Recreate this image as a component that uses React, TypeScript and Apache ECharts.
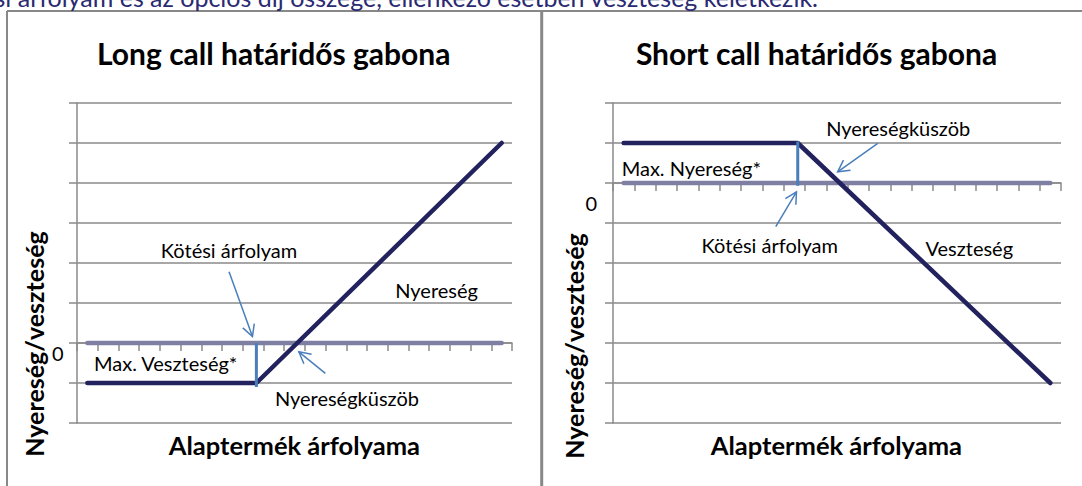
import React, { useEffect, useRef } from 'react';
import * as echarts from 'echarts';

const FONT = 'Lato, "Noto Sans", sans-serif';

// ---- data (price axis units, payoff units) ----
const zeroPrice = [0.5, 20.5];
const zeroPayoff = [0, 0];
const longPrice = [0.5, 8.66, 20.5];
const longPayoff = [-1, -1, 5];
const shortPrice = [0.5, 8.66, 20.5];
const shortPayoff = [1, 1, -5];
const strikePrice = 8.66;
const longStrikeSpan = [0, -1.1];
const shortStrikeSpan = [1.04, -0.07];
const yAxisLabels = ['0'];

const titles = ['Long call határidős gabona', 'Short call határidős gabona'];
const xAxisName = 'Alaptermék árfolyama';
const yAxisName = 'Nyereség/veszteség';
const headerText = 'kötési árfolyam és az opciós díj összege, ellenkező esetben veszteség keletkezik.';

type Note = { text: string; x: number; y: number };
type Arrow = { from: [number, number]; to: [number, number] };

const longNotes: Note[] = [
  { text: 'Kötési árfolyam', x: 7.34, y: 2.33 },
  { text: 'Nyereség', x: 17.36, y: 1.33 },
  { text: 'Max. Veszteség*', x: 4.28, y: -0.51 },
  { text: 'Nyereségküszöb', x: 13.03, y: -1.38 },
];
const shortNotes: Note[] = [
  { text: 'Nyereségküszöb', x: 13.37, y: 1.37 },
  { text: 'Max. Nyereség*', x: 3.67, y: 0.37 },
  { text: 'Kötési árfolyam', x: 7.35, y: -1.55 },
  { text: 'Veszteség', x: 16.7, y: -1.63 },
];
const longArrows: Arrow[] = [
  { from: [7.34, 1.78], to: [8.47, 0.16] },
  { from: [11.99, -0.76], to: [10.71, -0.22] },
];
const shortArrows: Arrow[] = [
  { from: [12.41, 0.99], to: [10.53, 0.28] },
  { from: [7.63, -1.09], to: [8.6, -0.22] },
];

const AXIS = '#8a8a8a';
const NAVY = '#22225f';
const ZERO = '#7f7fa3';
const BLUE = '#4a7ebb';

export default function App() {
  const ref = useRef<HTMLDivElement>(null);
  useEffect(() => {
    const chart = echarts.init(ref.current!, undefined, { renderer: 'svg' });
    const grids = [
      { left: 77, top: 103, width: 435, height: 320 },
      { left: 613, top: 103, width: 448, height: 320 },
    ];
    const yRanges = [[-2, 6], [-6, 2]];
    // label "0" placement: offset below the zero line and distance left of the axis
    const zeroLabelDy = [10, 20];
    const zeroLabelRight = [63.7, 597];

    const xAxis = grids.map((_, i) => ({
      type: 'value', gridIndex: i, min: 0, max: 21, interval: 1,
      axisLine: { show: true, onZero: true, lineStyle: { color: AXIS, width: 1.5 } },
      axisTick: { show: true, length: 8, lineStyle: { color: AXIS, width: 1.5 } },
      axisLabel: { show: false },
      splitLine: { show: false },
    }));
    const yAxis = grids.map((_, i) => ({
      type: 'value', gridIndex: i, min: yRanges[i][0], max: yRanges[i][1], interval: 1,
      axisLine: { show: true, onZero: false, lineStyle: { color: AXIS, width: 1.5 } },
      axisTick: { show: true, length: 8, lineStyle: { color: AXIS, width: 1.5 } },
      axisLabel: { show: false },
      splitLine: { show: true, lineStyle: { color: AXIS, width: 1.5 } },
    }));

    const mk = (gi: number, xs: number[], ys: number[], color: string, width: number, z: number, cap = 'round') => ({
      type: 'line', xAxisIndex: gi, yAxisIndex: gi,
      data: xs.map((x, k) => [x, ys[k]]),
      symbol: 'none', silent: true, z,
      lineStyle: { color, width, cap, join: 'round' },
    });

    const series = [
      mk(0, zeroPrice, zeroPayoff, ZERO, 4.5, 2),
      mk(0, longPrice, longPayoff, NAVY, 4.5, 3),
      mk(0, [strikePrice, strikePrice], longStrikeSpan, BLUE, 3, 4, 'butt'),
      mk(1, zeroPrice, zeroPayoff, ZERO, 4.5, 2),
      mk(1, shortPrice, shortPayoff, NAVY, 4.5, 3),
      mk(1, [strikePrice, strikePrice], shortStrikeSpan, BLUE, 3, 4, 'butt'),
    ];

    chart.setOption({
      animation: false,
      grid: grids,
      xAxis, yAxis, series,
    });

    const txt = (text: string, x: number, y: number, size: number, bold = false, extra: any = {}) => ({
      type: 'text', x, y, silent: true, rotation: extra.rotation || 0,
      style: {
        text, fontFamily: FONT, fontSize: size, fontWeight: bold ? 'bold' : 'normal',
        fill: extra.fill || '#000', align: extra.align || 'center', verticalAlign: 'middle',
      },
    });

    const arrowEls = (gi: number, a: Arrow) => {
      const p0 = chart.convertToPixel({ gridIndex: gi }, a.from) as number[];
      const p1 = chart.convertToPixel({ gridIndex: gi }, a.to) as number[];
      const dx = p1[0] - p0[0], dy = p1[1] - p0[1];
      const L = Math.hypot(dx, dy);
      const bx = -dx / L, by = -dy / L;
      const len = 13, ang = (28 * Math.PI) / 180;
      const arm = (s: number) => {
        const c = Math.cos(s * ang), sn = Math.sin(s * ang);
        return [p1[0] + (bx * c - by * sn) * len, p1[1] + (bx * sn + by * c) * len];
      };
      return [
        { type: 'line', silent: true, shape: { x1: p0[0], y1: p0[1], x2: p1[0], y2: p1[1] }, style: { stroke: BLUE, lineWidth: 1.5 } },
        { type: 'polyline', silent: true, shape: { points: [arm(1), p1, arm(-1)] }, style: { stroke: BLUE, lineWidth: 1.5, fill: null } },
      ];
    };

    const noteEls = (gi: number, notes: Note[]) =>
      notes.map((n) => {
        const p = chart.convertToPixel({ gridIndex: gi }, [n.x, n.y]) as number[];
        return txt(n.text, p[0], p[1], 20);
      });

    const zeroLabels = grids.flatMap((_, gi) =>
      yAxisLabels.map((lab) => {
        const p = chart.convertToPixel({ gridIndex: gi }, [0, Number(lab)]) as number[];
        return txt(lab, zeroLabelRight[gi], p[1] + zeroLabelDy[gi], 20, false, { align: 'right' });
      })
    );

    const graphic: any[] = [
      { type: 'line', silent: true, shape: { x1: 7, y1: 11, x2: 1082, y2: 11 }, style: { stroke: '#888', lineWidth: 2 } },
      { type: 'line', silent: true, shape: { x1: 7, y1: 11, x2: 7, y2: 486 }, style: { stroke: '#888', lineWidth: 2 } },
      { type: 'line', silent: true, shape: { x1: 541.7, y1: 11, x2: 541.7, y2: 486 }, style: { stroke: '#888', lineWidth: 3 } },
      txt(headerText, 818, -3, 25, false, { align: 'right', fill: '#2a2a72' }),
      txt(titles[0], 273.7, 53.3, 30, true),
      txt(titles[1], 816.5, 53.3, 30, true),
      txt(xAxisName, 294.4, 445, 25.5, true),
      txt(xAxisName, 836.4, 445, 25.5, true),
      txt(yAxisName, 33.7, 344, 25, true, { rotation: Math.PI / 2 }),
      txt(yAxisName, 573.7, 346, 25, true, { rotation: Math.PI / 2 }),
      ...zeroLabels,
      ...noteEls(0, longNotes),
      ...noteEls(1, shortNotes),
      ...longArrows.flatMap((a) => arrowEls(0, a)),
      ...shortArrows.flatMap((a) => arrowEls(1, a)),
    ];
    chart.setOption({ graphic });

    return () => chart.dispose();
  }, []);

  return <div ref={ref} style={{ position: 'fixed', left: 0, top: 0, width: 1082, height: 486, background: '#fff' }} />;
}
